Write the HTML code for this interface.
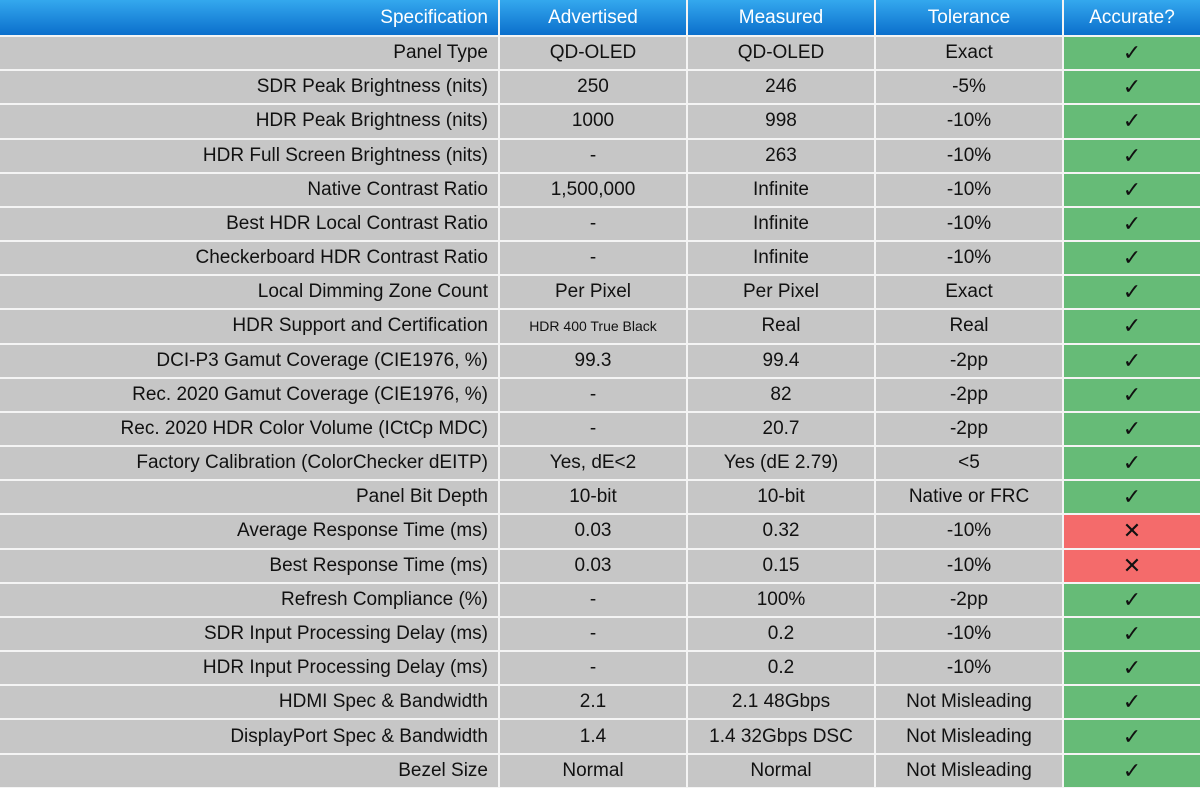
<!DOCTYPE html>
<html><head><meta charset="utf-8">
<style>
html,body{margin:0;padding:0;width:1200px;height:788px;overflow:hidden;background:#fff;}
table{border-collapse:collapse;table-layout:fixed;width:1200px;font-family:"Liberation Sans",sans-serif;font-size:19px;color:#111;}
td,th{border:2px solid #f4f4f4;padding:0;box-sizing:border-box;text-align:center;background:#c6c6c6;white-space:nowrap;overflow:hidden;}
th{background:linear-gradient(#34a8ee,#0b6fcc);color:#fff;font-weight:normal;height:36px;font-size:19px;border-top:none;}
tr.r td{height:34.18px;}
td.s{text-align:right;padding-right:10px;}
td.g{background:#66bb77;font-size:22px;}
td.x{background:#f46b6b;font-size:22px;}
td.sm{font-size:14px;}
tr>*:first-child{border-left:none;}
tr>*:last-child{border-right:none;}
</style></head><body>
<table>
<colgroup><col style="width:499px"><col style="width:188px"><col style="width:188px"><col style="width:188px"><col style="width:137px"></colgroup>
<tr><th style="text-align:right;padding-right:10px">Specification</th><th>Advertised</th><th>Measured</th><th>Tolerance</th><th>Accurate?</th></tr>
<tr class="r"><td class="s">Panel Type</td><td>QD-OLED</td><td>QD-OLED</td><td>Exact</td><td class="g">✓</td></tr>
<tr class="r"><td class="s">SDR Peak Brightness (nits)</td><td>250</td><td>246</td><td>-5%</td><td class="g">✓</td></tr>
<tr class="r"><td class="s">HDR Peak Brightness (nits)</td><td>1000</td><td>998</td><td>-10%</td><td class="g">✓</td></tr>
<tr class="r"><td class="s">HDR Full Screen Brightness (nits)</td><td>-</td><td>263</td><td>-10%</td><td class="g">✓</td></tr>
<tr class="r"><td class="s">Native Contrast Ratio</td><td>1,500,000</td><td>Infinite</td><td>-10%</td><td class="g">✓</td></tr>
<tr class="r"><td class="s">Best HDR Local Contrast Ratio</td><td>-</td><td>Infinite</td><td>-10%</td><td class="g">✓</td></tr>
<tr class="r"><td class="s">Checkerboard HDR Contrast Ratio</td><td>-</td><td>Infinite</td><td>-10%</td><td class="g">✓</td></tr>
<tr class="r"><td class="s">Local Dimming Zone Count</td><td>Per Pixel</td><td>Per Pixel</td><td>Exact</td><td class="g">✓</td></tr>
<tr class="r"><td class="s">HDR Support and Certification</td><td class="sm">HDR 400 True Black</td><td>Real</td><td>Real</td><td class="g">✓</td></tr>
<tr class="r"><td class="s">DCI-P3 Gamut Coverage (CIE1976, %)</td><td>99.3</td><td>99.4</td><td>-2pp</td><td class="g">✓</td></tr>
<tr class="r"><td class="s">Rec. 2020 Gamut Coverage (CIE1976, %)</td><td>-</td><td>82</td><td>-2pp</td><td class="g">✓</td></tr>
<tr class="r"><td class="s">Rec. 2020 HDR Color Volume (ICtCp MDC)</td><td>-</td><td>20.7</td><td>-2pp</td><td class="g">✓</td></tr>
<tr class="r"><td class="s">Factory Calibration (ColorChecker dEITP)</td><td>Yes, dE&lt;2</td><td>Yes (dE 2.79)</td><td>&lt;5</td><td class="g">✓</td></tr>
<tr class="r"><td class="s">Panel Bit Depth</td><td>10-bit</td><td>10-bit</td><td>Native or FRC</td><td class="g">✓</td></tr>
<tr class="r"><td class="s">Average Response Time (ms)</td><td>0.03</td><td>0.32</td><td>-10%</td><td class="x">✕</td></tr>
<tr class="r"><td class="s">Best Response Time (ms)</td><td>0.03</td><td>0.15</td><td>-10%</td><td class="x">✕</td></tr>
<tr class="r"><td class="s">Refresh Compliance (%)</td><td>-</td><td>100%</td><td>-2pp</td><td class="g">✓</td></tr>
<tr class="r"><td class="s">SDR Input Processing Delay (ms)</td><td>-</td><td>0.2</td><td>-10%</td><td class="g">✓</td></tr>
<tr class="r"><td class="s">HDR Input Processing Delay (ms)</td><td>-</td><td>0.2</td><td>-10%</td><td class="g">✓</td></tr>
<tr class="r"><td class="s">HDMI Spec &amp; Bandwidth</td><td>2.1</td><td>2.1 48Gbps</td><td>Not Misleading</td><td class="g">✓</td></tr>
<tr class="r"><td class="s">DisplayPort Spec &amp; Bandwidth</td><td>1.4</td><td>1.4 32Gbps DSC</td><td>Not Misleading</td><td class="g">✓</td></tr>
<tr class="r"><td class="s">Bezel Size</td><td>Normal</td><td>Normal</td><td>Not Misleading</td><td class="g">✓</td></tr>
</table>
</body></html>
